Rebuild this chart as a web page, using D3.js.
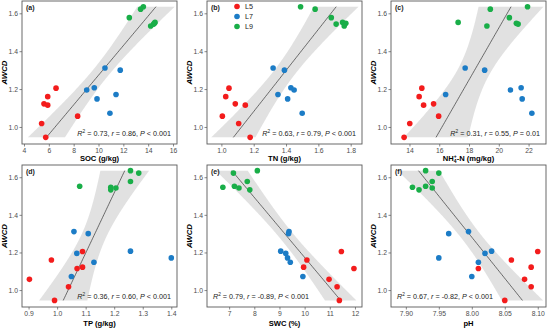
<!DOCTYPE html>
<html><head><meta charset="utf-8">
<script src="https://cdn.jsdelivr.net/npm/d3@7"></script>
<style>
body{margin:0;background:#fff}
svg{display:block}
text{font-family:"Liberation Sans",Arial,sans-serif}
</style>
</head><body>
<svg id="chart" width="550" height="329"></svg>
<script>
// ---- data (21 samples: 7 x L5, 7 x L7, 7 x L9) ----
const groups = ["L5","L5","L5","L5","L5","L5","L5","L7","L7","L7","L7","L7","L7","L7","L9","L9","L9","L9","L9","L9","L9"];
const legendGroups = ["L5","L7","L9"];
const groupColors = ["#f31c1c","#1c7cc6","#19ae48"];
const awcd = [1.205,1.160,1.122,1.115,1.057,1.018,0.945, 1.311,1.300,1.207,1.195,1.171,1.148,1.072, 1.635,1.622,1.577,1.552,1.547,1.543,1.533];
const soc  = [6.58,5.91,5.61,5.91,8.32,5.42,5.75, 10.52,11.75,9.66,9.05,11.41,9.88,10.92, 13.61,13.39,12.48,14.55,14.50,14.44,14.20];
const tn   = [1.047,1.027,1.086,1.148,1.006,1.107,1.178, 1.32,1.39,1.43,1.45,1.35,1.41,1.50, 1.49,1.58,1.68,1.75,1.77,1.71,1.76];
const nh4  = [14.83,14.65,15.62,14.95,15.96,14.02,13.64, 17.74,19.05,21.50,20.78,16.43,21.57,22.22, 21.93,19.43,20.71,17.27,21.18,21.30,19.20];
const tp   = [1.089,0.980,1.089,1.070,0.903,1.040,0.991, 1.059,1.109,1.257,1.069,1.400,1.129,1.050, 1.257,1.286,1.257,1.079,1.188,1.206,1.188];
const swc  = [11.46,10.09,9.96,11.96,10.97,11.29,11.38, 9.38,9.36,9.05,9.25,9.32,9.43,9.93, 8.12,7.17,7.72,7.21,6.75,7.39,7.82];
const ph   = [8.10,8.06,8.09,8.01,8.08,8.09,8.05, 7.995,7.965,8.03,8.02,7.95,8.01,8.00, 7.93,7.95,7.94,7.93,7.91,7.94,7.92];

const panelTags = ["(a)","(b)","(c)","(d)","(e)","(f)"];
const xTitles = ["SOC (g/kg)","TN (g/kg)","NH4","TP (g/kg)","SWC (%)","pH"];
const r2Values = ["0.73","0.63","0.31","0.36","0.79","0.67"];
const rValues  = ["0.86","0.79","0.55","0.60","-0.89","-0.82"];
const pLabels  = ["< 0.001","< 0.001","= 0.01","< 0.001","< 0.001","< 0.001"];

const socTicks = [4,6,8,10,12,14,16];
const tnTicks  = [1.0,1.2,1.4,1.6,1.8];
const nh4Ticks = [14,16,18,20,22];
const tpTicks  = [0.9,1.0,1.1,1.2,1.3,1.4];
const swcTicks = [7,8,9,10,11,12];
const phTicks  = [7.90,7.95,8.00,8.05,8.10];
const awcdTicks = [1.0,1.2,1.4,1.6];

const socDomain = [3.84,16.32];
const tnDomain  = [0.911,1.87];
const nh4Domain = [12.76,23.17];
const tpDomain  = [0.877,1.42];
const swcDomain = [6.12,12.28];
const phDomain  = [7.8775,8.1125];
const awcdDomain = [0.91,1.665];

// ---- layout ----
const colLeft = [22,207,391], colW = 155;
const rowTop = [1,165], rowH = [143,142];

const panels = [
  {xs:soc, ticks:socTicks, domain:socDomain, fmt:d3.format("d")},
  {xs:tn,  ticks:tnTicks,  domain:tnDomain,  fmt:d3.format(".1f")},
  {xs:nh4, ticks:nh4Ticks, domain:nh4Domain, fmt:d3.format("d")},
  {xs:tp,  ticks:tpTicks,  domain:tpDomain,  fmt:d3.format(".1f")},
  {xs:swc, ticks:swcTicks, domain:swcDomain, fmt:d3.format("d")},
  {xs:ph,  ticks:phTicks,  domain:phDomain,  fmt:d3.format(".2f")}
];

const svg = d3.select("#chart");
const color = d3.scaleOrdinal().domain(legendGroups).range(groupColors);

function fitBand(xs, ys){
  const n = xs.length, mx = d3.mean(xs), my = d3.mean(ys);
  let syy=0, sxy=0;
  for(let i=0;i<n;i++){ syy += (ys[i]-my)**2; sxy += (ys[i]-my)*(xs[i]-mx); }
  const b = sxy/syy, a = mx - b*my;
  let sse=0;
  for(let i=0;i<n;i++){ sse += (xs[i]-(a+b*ys[i]))**2; }
  const s = Math.sqrt(sse/(n-2)), t = 2.093;
  const [y0,y1] = d3.extent(ys);
  return d3.range(0,81).map(k=>{
    const y = y0 + (y1-y0)*k/80;
    return {y, fit:a+b*y, hw:t*s*Math.sqrt(1/n + (y-my)**2/syy)};
  });
}

panels.forEach((p,i)=>{
  const col = i%3, row = Math.floor(i/3);
  const L = colLeft[col], T = rowTop[row], Wd = colW, Ht = rowH[row];
  const g = svg.append("g").attr("transform",`translate(${L},${T})`);
  const x = d3.scaleLinear().domain(p.domain).range([0,Wd]);
  const y = d3.scaleLinear().domain(awcdDomain).range([Ht,0]);

  const clipId = "clip"+i;
  g.append("clipPath").attr("id",clipId).append("rect").attr("width",Wd).attr("height",Ht);
  const plot = g.append("g").attr("clip-path",`url(#${clipId})`);

  const band = fitBand(p.xs, awcd);
  plot.append("path").datum(band)
    .attr("d", d3.area().y(d=>y(d.y)).x0(d=>x(d.fit-d.hw)).x1(d=>x(d.fit+d.hw)))
    .attr("fill","#9a9a9a").attr("fill-opacity",0.3);
  plot.append("path").datum(band)
    .attr("d", d3.line().y(d=>y(d.y)).x(d=>x(d.fit)))
    .attr("fill","none").attr("stroke","#333").attr("stroke-width",0.7);

  plot.selectAll("circle").data(awcd.map((v,k)=>({x:p.xs[k],y:v,g:groups[k]})))
    .enter().append("circle")
    .attr("cx",d=>x(d.x)).attr("cy",d=>y(d.y)).attr("r",2.8)
    .attr("fill",d=>color(d.g));

  // axes
  const xa = g.append("g").attr("transform",`translate(0,${Ht})`)
    .call(d3.axisBottom(x).tickValues(p.ticks).tickFormat(p.fmt).tickSize(2.5).tickPadding(1.5));
  const ya = g.append("g")
    .call(d3.axisLeft(y).tickValues(awcdTicks).tickFormat(d3.format(".1f")).tickSize(2.5).tickPadding(1.5));
  [xa,ya].forEach(a=>{
    a.select(".domain").remove();
    a.selectAll(".tick line").attr("stroke","#555").attr("stroke-width",0.7);
    a.selectAll(".tick text").attr("fill","#4d4d4d").style("font-size","6.8px");
  });

  g.append("rect").attr("width",Wd).attr("height",Ht)
    .attr("fill","none").attr("stroke","#5a5a5a").attr("stroke-width",0.9);

  // tag
  g.append("text").attr("x",4).attr("y",8.5).text(panelTags[i])
    .style("font-size","7px").style("font-weight","bold").attr("fill","#222");

  // y title
  g.append("text").attr("transform",`translate(${-15},${Ht/2}) rotate(-90)`)
    .attr("text-anchor","middle").text("AWCD")
    .style("font-size","7.8px").style("font-weight","bold").style("font-style","italic");

  // x title
  const xt = g.append("text").attr("x",Wd/2).attr("y",Ht+(row===0?17:18.5))
    .attr("text-anchor","middle").style("font-size","7.6px").style("font-weight","bold");
  if(xTitles[i]==="NH4"){
    xt.append("tspan").text("NH");
    xt.append("tspan").text("4").style("font-size","5px").attr("dy",1.8);
    xt.append("tspan").text("+").style("font-size","5px").attr("dx",-2.8).attr("dy",-5);
    xt.append("tspan").text("-N (mg/kg)").attr("dy",3.2);
  } else {
    xt.text(xTitles[i]);
  }

  // stats annotation
  const st = g.append("text").attr("y",Ht-8).style("font-size","7.2px").attr("fill","#222");
  if(i<=3){ st.attr("x",Wd-6).attr("text-anchor","end"); }
  else { st.attr("x",6).attr("text-anchor","start"); }
  st.append("tspan").text("R").style("font-style","italic");
  st.append("tspan").text("2").style("font-size","4.8px").attr("dy",-2.8);
  st.append("tspan").text(" = "+r2Values[i]+", ").attr("dy",2.8);
  st.append("tspan").text("r").style("font-style","italic");
  st.append("tspan").text(" = "+rValues[i]+", ");
  st.append("tspan").text("P").style("font-style","italic");
  st.append("tspan").text(" "+pLabels[i]);

  // legend in (b)
  if(i===1){
    legendGroups.forEach((gname,k)=>{
      g.append("circle").attr("cx",30).attr("cy",5.5+k*10).attr("r",2.8).attr("fill",color(gname));
      g.append("text").attr("x",38).attr("y",8.2+k*10).text(gname)
        .style("font-size","7.2px").attr("fill","#222");
    });
  }
});
</script>
</body></html>
